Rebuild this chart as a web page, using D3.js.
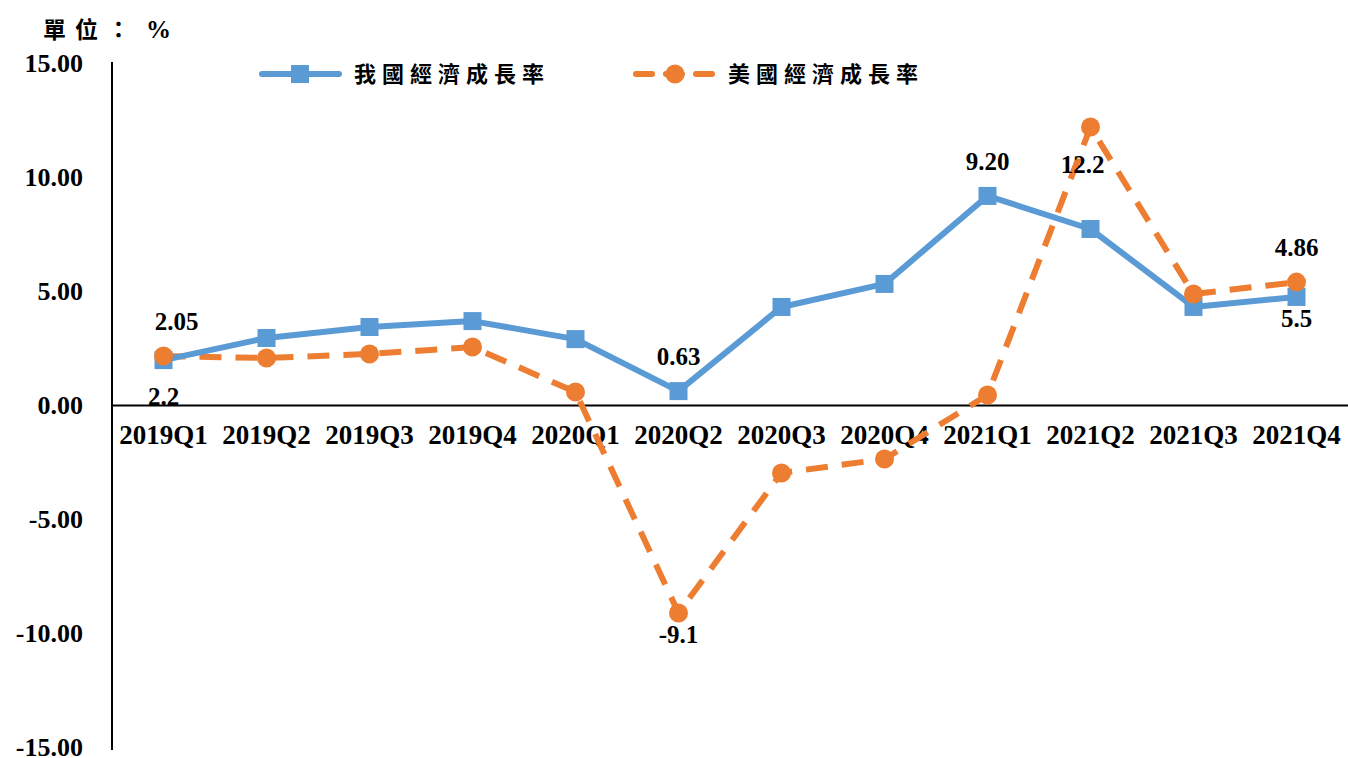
<!DOCTYPE html>
<html><head><meta charset="utf-8">
<script src="https://cdn.jsdelivr.net/npm/d3@7"></script>
<style>
html,body{margin:0;padding:0;background:#fff;}
svg{display:block;}
</style></head>
<body>
<svg id="chart" width="1348" height="758"></svg>
<script>
const categories = ["2019Q1","2019Q2","2019Q3","2019Q4","2020Q1","2020Q2","2020Q3","2020Q4","2021Q1","2021Q2","2021Q3","2021Q4"];
const twGrowth = [1.97, 2.94, 3.42, 3.68, 2.89, 0.61, 4.30, 5.31, 9.17, 7.72, 4.30, 4.74];
const usGrowth = [2.15, 2.06, 2.24, 2.54, 0.57, -9.12, -2.98, -2.37, 0.44, 12.19, 4.87, 5.39];
const yTicks = [15, 10, 5, 0, -5, -10, -15];
const seriesNames = ["我國經濟成長率", "美國經濟成長率"];
const dataLabels = [
  {cat:"2019Q1", v:2.15, text:"2.05", pos:"above"},
  {cat:"2019Q1", v:1.97, text:"2.2", pos:"below"},
  {cat:"2020Q2", v:0.61, text:"0.63", pos:"above"},
  {cat:"2020Q2", v:-9.12, text:"-9.1", pos:"below"},
  {cat:"2021Q1", v:9.17, text:"9.20", pos:"above"},
  {cat:"2021Q2", v:12.19, text:"12.2", pos:"below"},
  {cat:"2021Q4", v:5.39, text:"4.86", pos:"above"},
  {cat:"2021Q4", v:4.74, text:"5.5", pos:"below"}
];

const svg = d3.select("#chart");
const blue = "#5B9BD5", orange = "#ED7D31";
const serif = "'Liberation Serif','Times New Roman',serif";
const cjk = "'Noto Sans CJK TC','Noto Sans CJK SC',sans-serif";

const x = d3.scaleBand().domain(categories).range([112, 1348]);
const y = d3.scaleLinear().domain([-15, 15]).range([747, 63]);
const cx = c => x(c) + x.bandwidth()/2;
const fmt = d => d3.format(".2f")(d).replace("\u2212","-");

// Y axis
const yAxis = d3.axisLeft(y).tickValues(yTicks).tickSize(0).tickPadding(0).tickFormat(fmt);
const gy = svg.append("g").attr("transform","translate(112,0)").call(yAxis);
gy.select(".domain").attr("stroke","#000").attr("stroke-width",2).attr("d","M0,62V750");
gy.selectAll("text").attr("x",-29).attr("font-family",serif).attr("font-weight","bold").attr("font-size",26).attr("fill","#000");

// X axis at zero
const xAxis = d3.axisBottom(x).tickSize(0).tickPadding(0);
const gx = svg.append("g").attr("transform",`translate(0,${y(0)})`).call(xAxis);
gx.select(".domain").attr("stroke","#000").attr("stroke-width",2);
gx.selectAll("text").attr("y",20).attr("font-family",serif).attr("font-weight","bold").attr("font-size",27).attr("fill","#000");

// Lines
const line = d3.line().x((d,i)=>cx(categories[i])).y(d=>y(d));
svg.append("path").datum(usGrowth).attr("d",line).attr("fill","none")
  .attr("stroke",orange).attr("stroke-width",6).attr("stroke-dasharray","22,14");
svg.append("path").datum(twGrowth).attr("d",line).attr("fill","none")
  .attr("stroke",blue).attr("stroke-width",6).attr("stroke-linejoin","round");

svg.append("g").selectAll("rect").data(twGrowth).join("rect")
  .attr("x",(d,i)=>cx(categories[i])-9).attr("y",d=>y(d)-9).attr("width",18).attr("height",18).attr("fill",blue);
svg.append("g").selectAll("circle").data(usGrowth).join("circle")
  .attr("cx",(d,i)=>cx(categories[i])).attr("cy",d=>y(d)).attr("r",9.5).attr("fill",orange);

// data labels
svg.append("g").selectAll("text").data(dataLabels).join("text")
  .attr("x",d=>cx(d.cat)+(d.text==="2.05"?13:(d.text==="12.2"?-8:0)))
  .attr("y",d=>y(d.v)+(d.pos==="above"?-26:(d.text==="12.2"?46:(d.text==="2.2"?45:30))))
  .attr("text-anchor","middle").attr("font-family",serif).attr("font-weight","bold")
  .attr("font-size",25).attr("fill","#000").text(d=>d.text);

// unit label
svg.append("text").attr("x",43).attr("y",38).attr("font-family",cjk).attr("font-weight","bold")
  .attr("font-size",23).attr("letter-spacing",9).attr("fill","#000").text("單位：");
svg.append("text").attr("x",146).attr("y",38).attr("font-family",serif).attr("font-weight","bold")
  .attr("font-size",25).attr("fill","#000").text("%");

// legend
const legend = [
  {name:seriesNames[0], color:blue, x0:262, marker:"rect", dash:null},
  {name:seriesNames[1], color:orange, x0:636, marker:"circle", dash:"16,14"}
];
const lg = svg.append("g");
legend.forEach(l=>{
  lg.append("line").attr("x1",l.x0).attr("x2",l.x0+77).attr("y1",74).attr("y2",74)
    .attr("stroke",l.color).attr("stroke-width",6).attr("stroke-linecap","round")
    .attr("stroke-dasharray",l.dash);
  if(l.marker==="rect") lg.append("rect").attr("x",l.x0+29).attr("y",65).attr("width",18).attr("height",18).attr("fill",l.color);
  else lg.append("circle").attr("cx",l.x0+39).attr("cy",74).attr("r",9.5).attr("fill",l.color);
  lg.append("text").attr("x",l.x0+92).attr("y",82).attr("font-family",cjk).attr("font-weight","bold")
    .attr("font-size",22).attr("letter-spacing",6).attr("fill","#000").text(l.name);
});
</script>
</body></html>
